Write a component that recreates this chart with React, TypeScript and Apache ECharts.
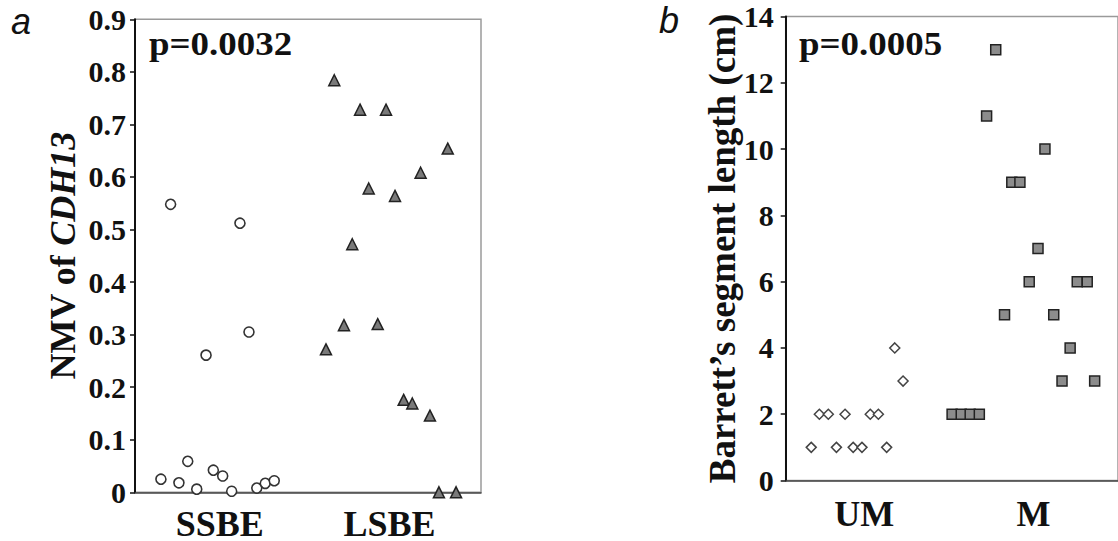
import React, { useEffect, useRef } from 'react';
import * as echarts from 'echarts';

// Panel a
const groupsA = ['SSBE', 'LSBE'];
const yLabelsA = ['0', '0.1', '0.2', '0.3', '0.4', '0.5', '0.6', '0.7', '0.8', '0.9'];
const ssbeX = [0.153, 0.210, 0.259, 0.311, 0.364, 0.419, 0.462, 0.517, 0.570, 0.619, 0.672, 0.718, 0.768, 0.821];
const ssbeY = [0.025, 0.548, 0.018, 0.059, 0.006, 0.261, 0.042, 0.031, 0.002, 0.512, 0.305, 0.008, 0.017, 0.022];
const lsbeX = [1.126, 1.175, 1.232, 1.281, 1.327, 1.378, 1.431, 1.480, 1.533, 1.584, 1.635, 1.684, 1.739, 1.792, 1.844, 1.893];
const lsbeY = [0.272, 0.784, 0.318, 0.472, 0.728, 0.578, 0.320, 0.728, 0.564, 0.176, 0.169, 0.608, 0.146, 0, 0.654, 0];

// Panel b
const groupsB = ['UM', 'M'];
const yLabelsB = ['0', '2', '4', '6', '8', '10', '12', '14'];
const umX = [0.186, 0.234, 0.287, 0.335, 0.386, 0.434, 0.486, 0.535, 0.583, 0.632, 0.680, 0.729];
const umY = [1, 2, 2, 1, 2, 1, 1, 2, 2, 1, 4, 3];
const mX = [1.019, 1.073, 1.126, 1.180, 1.223, 1.277, 1.329, 1.372, 1.420, 1.475, 1.527, 1.568, 1.620, 1.669, 1.717, 1.759, 1.818, 1.862];
const mY = [2, 2, 2, 2, 11, 13, 5, 9, 9, 6, 7, 10, 5, 3, 4, 6, 6, 3];

const pA = 'p=0.0032';
const pB = 'p=0.0005';

const pairs = (xs: number[], ys: number[]) => xs.map((x, i) => [x, ys[i]]);

export default function App() {
  const ref = useRef<HTMLDivElement>(null);
  useEffect(() => {
    document.body.style.margin = '0';
    const chart = echarts.init(ref.current!, null, { renderer: 'svg' });
    const serif = 'serif';
    const valsA = yLabelsA.map(Number);
    const valsB = yLabelsB.map(Number);
    const baseY = {
      type: 'value' as const,
      axisLine: { show: true, lineStyle: { color: '#111', width: 2 } },
      axisTick: { show: true, length: 5, lineStyle: { color: '#111', width: 1.5 } },
      axisLabel: { show: false },
      splitLine: { show: false },
      nameLocation: 'middle' as const,
    };
    const baseX = {
      type: 'value' as const,
      axisLine: { show: true, lineStyle: { color: '#444', width: 1.5 } },
      axisTick: { show: false },
      axisLabel: { show: false },
      splitLine: { show: false },
    };
    const xMinA = 0, xMaxA = 2.04, xMinB = 0.035, xMaxB = 2.0;
    chart.setOption({
      animation: false,
      backgroundColor: '#fff',
      grid: [
        { left: 135, top: 19.3, width: 346, height: 473, show: true, borderColor: '#9a9a9a', borderWidth: 1.5 },
        { left: 785.7, top: 16.5, width: 338, height: 464, show: true, borderColor: '#9a9a9a', borderWidth: 1.5 },
      ],
      xAxis: [
        { ...baseX, gridIndex: 0, min: xMinA, max: xMaxA },
        { ...baseX, gridIndex: 1, min: xMinB, max: xMaxB },
      ],
      yAxis: [
        {
          ...baseY,
          gridIndex: 0,
          min: valsA[0],
          max: valsA[valsA.length - 1],
          interval: valsA[1] - valsA[0],
          name: '{n|NMV of }{i|CDH13}',
          nameGap: 54,
          nameTextStyle: {
            rich: {
              n: { fontFamily: serif, fontWeight: 'bold', fontSize: 36, color: '#111' },
              i: { fontFamily: serif, fontWeight: 'bold', fontStyle: 'italic', fontSize: 36, color: '#111' },
            },
          },
        },
        {
          ...baseY,
          gridIndex: 1,
          min: valsB[0],
          max: valsB[valsB.length - 1],
          interval: valsB[1] - valsB[0],
          name: 'Barrett\u2019s segment length (cm)',
          nameGap: 45,
          nameTextStyle: { fontFamily: serif, fontWeight: 'bold', fontSize: 37, color: '#111' },
        },
      ],
      series: [
        {
          type: 'scatter', xAxisIndex: 0, yAxisIndex: 0, data: pairs(ssbeX, ssbeY),
          symbol: 'circle', symbolSize: 10,
          itemStyle: { color: '#fff', borderColor: '#333', borderWidth: 1.6, opacity: 1 },
        },
        {
          type: 'scatter', xAxisIndex: 0, yAxisIndex: 0, data: pairs(lsbeX, lsbeY),
          symbol: 'triangle', symbolSize: 11,
          itemStyle: { color: '#7a7a7a', borderColor: '#222', borderWidth: 1.5, opacity: 1 },
        },
        {
          type: 'scatter', xAxisIndex: 1, yAxisIndex: 1, data: pairs(umX, umY),
          symbol: 'diamond', symbolSize: 10,
          itemStyle: { color: '#fff', borderColor: '#444', borderWidth: 1.5, opacity: 1 },
        },
        {
          type: 'scatter', xAxisIndex: 1, yAxisIndex: 1, data: pairs(mX, mY),
          symbol: 'rect', symbolSize: 10,
          itemStyle: { color: '#8c8c8c', borderColor: '#222', borderWidth: 1.5, opacity: 1 },
        },
      ],
    });

    // Axis labels placed through the axes' own scales (convertToPixel)
    const tickFont = 'bold 30px serif';
    const catFont = 'bold 36px serif';
    const labels: any[] = [];
    const addY = (gridIndex: number, xMin: number, vals: number[], texts: string[], gap: number) => {
      vals.forEach((v, i) => {
        const [px, py] = chart.convertToPixel({ gridIndex }, [xMin, v]) as number[];
        labels.push({ type: 'text', x: px - gap, y: py, style: { text: texts[i], font: tickFont, fill: '#111', align: 'right', verticalAlign: 'middle' } });
      });
    };
    const addX = (gridIndex: number, names: string[], gap: number) => {
      names.forEach((n, i) => {
        const [px, py] = chart.convertToPixel({ gridIndex }, [i + 0.5, 0]) as number[];
        labels.push({ type: 'text', x: px, y: py + gap, style: { text: n, font: catFont, fill: '#111', align: 'center', verticalAlign: 'middle' } });
      });
    };
    addY(0, xMinA, valsA, yLabelsA, 9);
    addY(1, xMinB, valsB, yLabelsB, 12);
    addX(0, groupsA, 32);
    addX(1, groupsB, 33);

    chart.setOption({
      graphic: [
        { type: 'text', x: 11, y: 21.5, style: { text: 'a', font: 'italic 36px Liberation Sans', fill: '#111', verticalAlign: 'middle' } },
        { type: 'text', x: 659, y: 20, style: { text: 'b', font: 'italic 36px Liberation Sans', fill: '#111', verticalAlign: 'middle' } },
        { type: 'text', x: 149, y: 44, scaleX: 1.12, style: { text: pA, font: 'bold 33px serif', fill: '#111', verticalAlign: 'middle' } },
        { type: 'text', x: 799, y: 44, scaleX: 1.12, style: { text: pB, font: 'bold 33px serif', fill: '#111', verticalAlign: 'middle' } },
        ...labels,
      ],
    });
    return () => chart.dispose();
  }, []);
  return <div ref={ref} style={{ position: 'absolute', left: 0, top: 0, width: 1118, height: 541 }} />;
}
